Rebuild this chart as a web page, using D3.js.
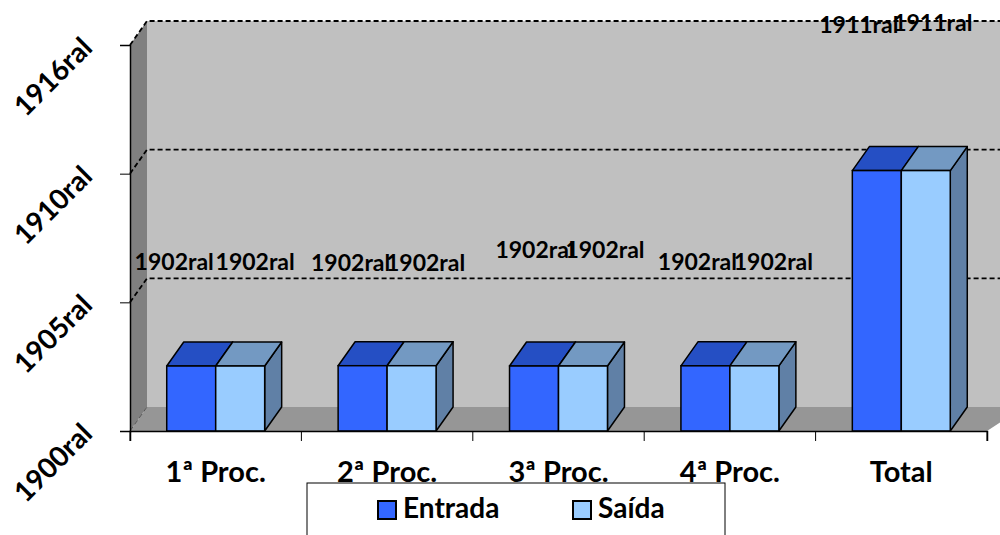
<html>
	<head>
		<title>Entrada / Saída</title>
		<script src="https://cdn.jsdelivr.net/npm/d3@7/dist/d3.min.js"></script>
		<style>
			body { margin: 0; background: #fff; }
			text { font-family: Lato, "Liberation Sans", sans-serif; font-weight: bold; fill: #000; }
		</style>
	</head>
	<body>
		<div id="chart"></div>
		<script>
			// Data (values are Excel day serials, shown with a year format + "ral")
			var categories = ["1ª Proc.", "2ª Proc.", "3ª Proc.", "4ª Proc.", "Total"];
			var seriesNames = ["Entrada", "Saída"];
			var entrada = [1010, 1015, 1010, 1013, 4048];
			var saida = [1010, 1015, 1010, 1013, 4048];
			var yTicks = [0, 2000, 4000, 6000];
			var yTickLabels = ["1900ral", "1905ral", "1910ral", "1916ral"];

			// label nudges (Excel placed them oddly)
			var liftE = [96, 95, 108, 96, 138];
			var liftS = [96, 95, 108, 96, 140];
			var nudgeE = [-17, -12, 1, -8, -18];
			var nudgeS = [15, 14, 22, 19, 7];

			var W = 1000, H = 535;
			var dx = 17, dy = -24;
			var front = {"Entrada": "#3366ff", "Saída": "#99ccff"};
			var top3d = {"Entrada": "#254fc4", "Saída": "#7399c2"};
			var side3d = {"Entrada": "#1f3f9e", "Saída": "#6080a6"};

			var svg = d3.select("#chart").append("svg")
				.attr("width", W)
				.attr("height", H);

			var x = d3.scaleBand().domain(categories).range([130, 987]);
			var xs = d3.scaleBand().domain(seriesNames).range([0, x.bandwidth()]).paddingOuter(0.75);
			var y = d3.scaleLinear().domain([0, 6000]).range([431, 45]);

			var x0 = x.range()[0], x1 = x.range()[1];
			var yTop = y(6000), yBot = y(0);

			// walls and floor
			svg.append("rect")
				.attr("x", x0 + dx).attr("y", yTop + dy)
				.attr("width", W - x0).attr("height", yBot - yTop)
				.attr("fill", "#c0c0c0");
			svg.append("polygon")
				.attr("points", [[x0, yTop], [x0 + dx, yTop + dy], [x0 + dx, yBot + dy], [x0, yBot]].join(" "))
				.attr("fill", "#808080");
			svg.append("polygon")
				.attr("points", [[x0, yBot], [x0 + dx, yBot + dy], [x1 + dx + 20, yBot + dy], [x1, yBot]].join(" "))
				.attr("fill", "#969696");

			// gridlines
			yTicks.forEach(function(v) {
				svg.append("path")
					.attr("d", "M" + x0 + "," + y(v) + "L" + (x0 + dx) + "," + (y(v) + dy) + (v > 0 ? "L" + (W + 5) + "," + (y(v) + dy) : ""))
					.attr("fill", "none")
					.attr("stroke", v > 0 ? "#000" : "#555")
					.attr("stroke-width", v > 0 ? 1.8 : 1)
					.attr("stroke-dasharray", "5,3");
			});

			// bars
			var rows = categories.map(function(c, i) {
				return [{cat: c, s: "Entrada", v: entrada[i], i: i}, {cat: c, s: "Saída", v: saida[i], i: i}];
			});
			var groups = svg.selectAll("g.cat").data(rows).enter().append("g").attr("class", "cat");
			var bars = groups.selectAll("g.bar").data(function(d) { return d; }).enter().append("g").attr("class", "bar");
			bars.each(function(d) {
				var g = d3.select(this);
				var bx = x(d.cat) + xs(d.s), bw = xs.bandwidth();
				var by = y(d.v);
				g.append("polygon")
					.attr("points", [[bx + bw, by], [bx + bw + dx, by + dy], [bx + bw + dx, yBot + dy], [bx + bw, yBot]].join(" "))
					.attr("fill", side3d[d.s]).attr("stroke", "#000").attr("stroke-width", 1.5).attr("stroke-linejoin", "round");
				g.append("polygon")
					.attr("points", [[bx, by], [bx + dx, by + dy], [bx + bw + dx, by + dy], [bx + bw, by]].join(" "))
					.attr("fill", top3d[d.s]).attr("stroke", "#000").attr("stroke-width", 1.5).attr("stroke-linejoin", "round");
				g.append("rect")
					.attr("x", bx).attr("y", by).attr("width", bw).attr("height", yBot - by)
					.attr("fill", front[d.s]).attr("stroke", "#000").attr("stroke-width", 1.5);
			});

			// axes
			var yAxis = svg.append("g").attr("transform", "translate(" + x0 + ",0)")
				.call(d3.axisLeft(y).tickValues(yTicks).tickSize(10).tickFormat(function(d, i) { return yTickLabels[i]; }));
			yAxis.select(".domain").attr("stroke", "#000").attr("stroke-width", 1.5);
			yAxis.selectAll(".tick line").attr("stroke", "#000");
			yAxis.selectAll(".tick text")
				.attr("x", 0).attr("dy", 0)
				.attr("text-anchor", "end")
				.attr("font-size", 28)
				.attr("font-family", null)
				.attr("fill", "#000")
				.attr("transform", "translate(-36,4) rotate(-45)");

			var xAxis = svg.append("g").attr("transform", "translate(0," + yBot + ")")
				.call(d3.axisBottom(x).tickSize(10).tickSizeOuter(10));
			xAxis.select(".domain").attr("stroke", "#000").attr("stroke-width", 1.5);
			xAxis.selectAll(".tick line").attr("transform", "translate(" + (-x.bandwidth() / 2) + ",0)").attr("stroke", "#000");
			xAxis.append("line").attr("x1", x1).attr("x2", x1).attr("y1", 0).attr("y2", 10).attr("stroke", "#000");
			xAxis.selectAll(".tick text")
				.attr("y", 51).attr("dy", 0)
				.attr("font-size", 29)
				.attr("font-family", null)
				.attr("fill", "#000");

			// data labels
			var fmtYear = d3.timeFormat("%Y");
			function label(v) { return fmtYear(new Date(1899, 11, 31 + v)) + "ral"; }
			bars.append("text")
				.attr("x", function(d) { return x(d.cat) + xs(d.s) + xs.bandwidth() / 2 + (d.s == "Entrada" ? nudgeE[d.i] : nudgeS[d.i]); })
				.attr("y", function(d) { return y(d.v) - (d.s == "Entrada" ? liftE[d.i] : liftS[d.i]); })
				.attr("text-anchor", "middle")
				.attr("font-size", 23)
				.text(function(d) { return label(d.v); });

			// legend
			var lg = svg.append("g");
			lg.append("rect").attr("x", 307).attr("y", 483).attr("width", 418).attr("height", 70)
				.attr("fill", "#fff").attr("stroke", "#000").attr("stroke-width", 1);
			var items = lg.selectAll("g.item").data(seriesNames).enter().append("g")
				.attr("transform", function(d, i) { return "translate(" + (378 + i * 195) + ",0)"; });
			items.append("rect").attr("x", 0).attr("y", 501).attr("width", 18).attr("height", 18)
				.attr("fill", function(d) { return front[d]; }).attr("stroke", "#000").attr("stroke-width", 2);
			items.append("text").attr("x", 25).attr("y", 518).attr("font-size", 28).text(function(d) { return d; });
		</script>
	</body>
</html>
